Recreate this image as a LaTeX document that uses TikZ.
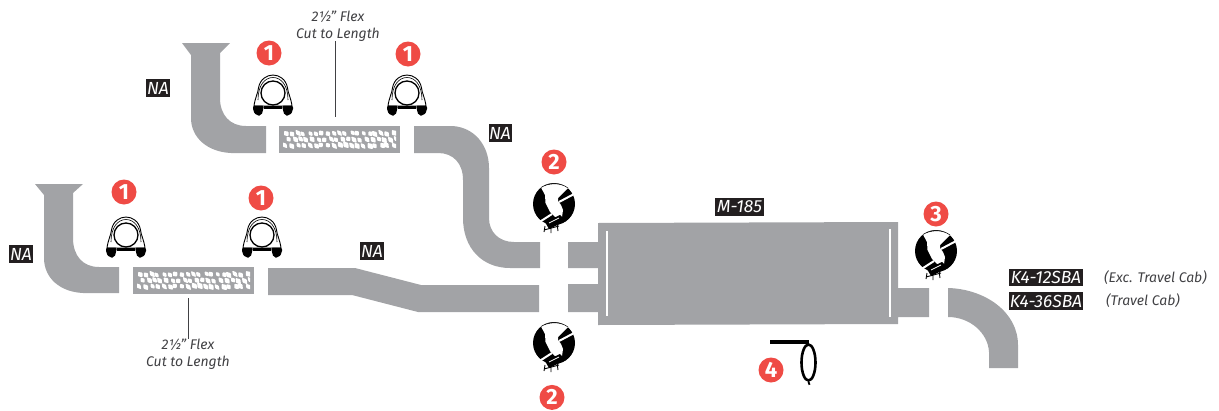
\documentclass[tikz,border=0pt]{standalone}
\usepackage{fontspec}
\setmainfont{Fira Sans}
\usepackage{tikz}
\usetikzlibrary{shapes.geometric, positioning, calc}
\definecolor{pipegray}{RGB}{162, 163, 166}
\definecolor{badgered}{RGB}{239, 75, 69}
\definecolor{tagblack}{RGB}{35, 31, 32}
\definecolor{notegray}{RGB}{65, 65, 68}

\begin{document}
\begin{tikzpicture}[
  x=1pt, y=-1pt,
  pipe/.style={fill=pipegray, draw=none},
  gapline/.style={draw=white, line width=1.6pt},
  flexbox/.style={rectangle, fill=pipegray, inner sep=0pt, minimum width=121pt, minimum height=27pt},
  badge/.style={circle, fill=badgered, text=white, inner sep=0pt, minimum size=25pt,
               font=\fontsize{22}{22}\selectfont\bfseries},
  tagbox/.style={rectangle, fill=tagblack, text=white, inner sep=0pt, minimum height=18pt,
               font=\fontsize{17.5}{17.5}\selectfont\itshape},
  note/.style={align=center, text=notegray, inner sep=0pt,
               font=\fontsize{14}{16.5}\selectfont\itshape},
  leader/.style={draw=notegray, line width=0.9pt},
  ubolt/.pic={
    % double arch over the pipe
    \filldraw[fill=white, draw=black, line width=0.9pt] (-19,13) .. controls (-18,5) and (-15,0) .. (-14.5,-5)
      .. controls (-13,-14) and (-6,-18) .. (0,-18) .. controls (6,-18) and (13,-14) .. (14.5,-5)
      .. controls (15,0) and (18,5) .. (19,13) -- cycle;
    \draw[black, line width=0.6pt] (-15,7) .. controls (-15,-8) and (-8,-15.5) .. (0,-15.5)
      .. controls (8,-15.5) and (15,-8) .. (15,7);
    \draw[black, line width=1.3pt, fill=white] (0,0) circle[radius=12];
    % saddle and feet
    \fill[black] (-9,13) -- (9,13) -- (9,15.5) -- (-9,15.5) -- cycle;
    \fill[black, rounded corners=2pt] (-20,12.5) -- (-9,12.5) -- (-10,17) -- (-11.5,22.5) -- (-16.5,22.5) -- (-20,18) -- cycle;
    \fill[black, rounded corners=2pt] (20,12.5) -- (9,12.5) -- (10,17) -- (11.5,22.5) -- (16.5,22.5) -- (20,18) -- cycle;
  },
  bandclamp/.pic={
    \fill[black] (0,-1) circle[radius=21];
    % open side of the band
    \fill[white] (-13,-17.5) .. controls (-6,-22) and (6,-23) .. (14,-17) -- (4,-7) -- (4,-4) -- (7,0) -- (9,5) -- (8,12)
      -- (2,13) -- (-4,7) -- (-8.5,-2) -- (-9,-10) -- cycle;
    \draw[black, line width=0.5pt] (-13,-17.5) .. controls (-6,-22) and (6,-23) .. (14,-17);
    \draw[white, line width=2pt] (5,-3) -- (22,-12);
    \draw[white, line width=2pt] (-16,18) -- (-2,9);
    % bolt block
    \fill[black] (-9,17) -- (6,10) -- (12,16) -- (-5,24) -- cycle;
    \draw[black, line width=0.9pt] (-9,21) -- (-10,27) (-3,21) -- (-3,28) (3,18) -- (4,26) (-10,25) -- (5,21);
    \draw[white, line width=0.7pt] (-5,18) -- (5,13);
  },
  flexcells/.pic={
    \begin{scope}
    \clip (-56.5,-9) rectangle (56.5,9);
    \pgfmathsetseed{11}
    \foreach \col in {0,...,18}{
      \foreach \row in {0,1,2}{
        \pgfmathsetmacro{\cx}{-54 + 6*\col + 3*mod(\row,2) + 1.2*rand}
        \pgfmathsetmacro{\cy}{-6 + 6*\row + 0.7*rand}
        \pgfmathsetmacro{\wd}{3.0 + 1.4*rnd}
        \pgfmathsetmacro{\ht}{2.2 + 1.0*rnd}
        \fill[white, shift={(\cx,\cy)}, rotate=-50, rounded corners=0.8pt] (-\wd,0) -- (0,-\ht) -- (\wd,0) -- (0,\ht) -- cycle;
      }
    }
    \end{scope}
  },
]
  \useasboundingbox (0,0) rectangle (1219,410);

  % Upper front pipe
  \fill[pipe] (182,43) -- (230,43) -- (220,53) -- (220,98) .. controls (220,115) and (230,126) .. (246,126)
    -- (266,126) -- (266,153) -- (231,153) .. controls (208,152) and (191,138) .. (191,118) -- (191,55) -- cycle;
  % Upper rear pipe
  \fill[pipe] (414,126) -- (452,126) .. controls (474,127) and (489,145) .. (489,168) -- (489,218)
    .. controls (489,232) and (499,242) .. (514,242) -- (540,242) -- (540,268) -- (510,268)
    .. controls (482,268) and (463,248) .. (463,218) -- (463,180) .. controls (463,163) and (453,153) .. (438,153) -- (414,153) -- cycle;
  % Lower front pipe
  \fill[pipe] (35,184) -- (83,184) -- (73,193) -- (73,238) .. controls (73,256) and (83,267) .. (99,267)
    -- (119,267) -- (119,293) -- (83,293) .. controls (60,292) and (44,278) .. (44,258) -- (44,195) -- cycle;
  % Lower rear pipe
  \fill[pipe] (268,268) -- (355,268) -- (421,285) -- (539,285) -- (539,312) -- (418,312) -- (352,295) -- (268,295) -- cycle;
  % Muffler
  \fill[pipe] (598,223) -- (898,222) -- (898,288) -- (929,288) -- (929,317) -- (898,317) -- (898,324) -- (598,325)
    -- (598,312) -- (568,312) -- (568,284) -- (598,284) -- (598,268) -- (568,268) -- (568,242) -- (598,242) -- cycle;
  \draw[gapline] (607,231) -- (607,316);
  \draw[gapline] (890,229) -- (890,317);
  % Tail pipe
  \fill[pipe] (948,288) .. controls (985,289) and (1018,312) .. (1018,345) -- (1018,368) -- (989,368) -- (989,352)
    .. controls (988,333) and (970,317) .. (948,317) -- cycle;

  % Flex pieces
  \node[flexbox] (flexup) at (339.5,139.5) {};
  \node[flexbox] (flexlow) at (193.5,280.5) {};
  \pic at (flexup) {flexcells};
  \pic at (flexlow) {flexcells};
  \node[note] (noteup) at (338,26) {2½" Flex\\Cut to Length};
  \node[note] (notelow) at (188,354) {2½" Flex\\Cut to Length};
  \coordinate (noteupend) at (335,117);
  \coordinate (notelowstart) at (188,298);
  \draw[leader] (noteup.south -| noteupend) -- (noteupend);
  \draw[leader] (notelowstart) -- (notelow.north -| notelowstart);

  % Clamps
  \pic at (273,93) {ubolt};
  \pic at (407,93) {ubolt};
  \pic at (126,235) {ubolt};
  \pic at (262,235) {ubolt};
  \pic at (554,205) {bandclamp};
  \pic at (554,344) {bandclamp};
  \pic at (936,252) {bandclamp};

  % Hanger
  \node[draw=black, line width=2.6pt, ellipse, inner sep=0pt, minimum width=14pt, minimum height=36pt] (hanger) at (808.5,362.5) {};
  \coordinate (hangerend) at (770,342);
  \draw[black, line width=3.4pt] (hangerend) -- (hangerend -| hanger.north);
  \draw[black, line width=1.8pt] (hanger.south) -- ++(1,3);

  % Badges
  \node[badge] (one-a) at (269,53) {1};
  \node[badge] (one-b) at (408,54) {1};
  \node[badge] (one-c) at (124,192) {1};
  \node[badge] (one-d) at (261,198) {1};
  \node[badge] (two-a) at (554,162) {2};
  \node[badge] (two-b) at (552,397.4) {2};
  \node[badge] (three) at (936,214) {3};
  \node[badge] (four) at (771,370) {4};

  % Part numbers
  \node[tagbox, minimum width=24pt] (na-a) at (158,88) {NA};
  \node[tagbox, minimum width=23pt] (na-b) at (500,133) {NA};
  \node[tagbox, minimum width=24pt] (na-c) at (21,254) {NA};
  \node[tagbox, minimum width=24pt] (na-d) at (372,251) {NA};
  \node[tagbox, minimum width=49pt] (muffler) at (739.5,207) {M-185};
  \node[tagbox, minimum width=74pt, minimum height=17pt] (tail-a) at (1046,277.5) {K4-12SBA};
  \node[tagbox, minimum width=74pt] (tail-b) at (1046,301) {K4-36SBA};
  \node[note, anchor=west] (cab-a) at (1104,278) {(Exc. Travel Cab)};
  \node[note, anchor=west] (cab-b) at (1106,301) {(Travel Cab)};
\end{tikzpicture}
\end{document}
